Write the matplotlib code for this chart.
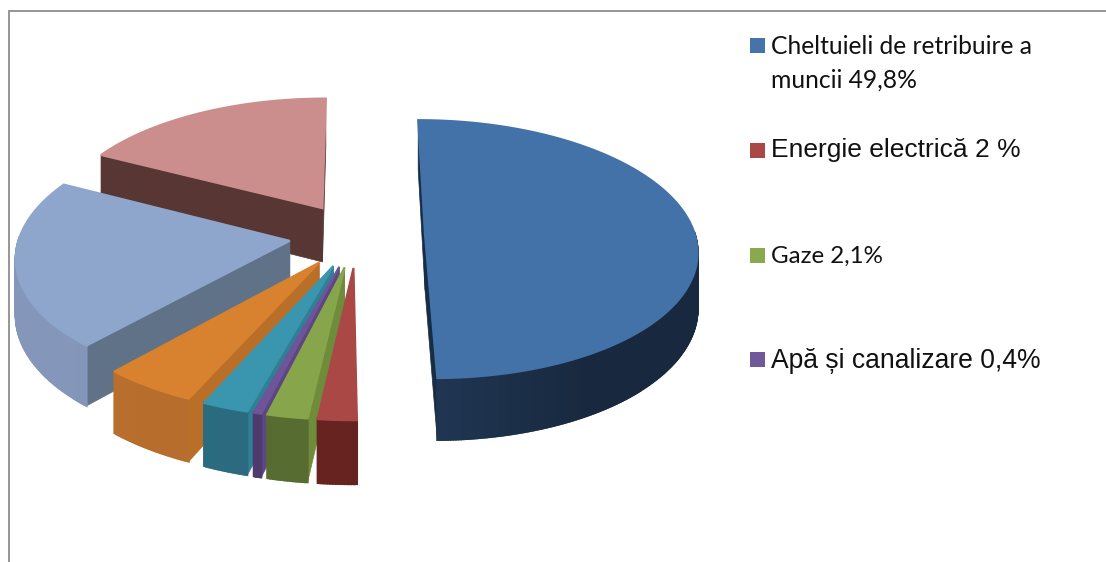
#!/usr/bin/env python3
"""Exploded 3D pie of expense shares, drawn by hand on a pixel canvas."""
import matplotlib
matplotlib.use('Agg')
import matplotlib.pyplot as plt
import numpy as np

# Shares in percent, clockwise from the top of the pie
values = [49.8, 2.0, 2.1, 0.4, 2.4, 4.9, 21.0, 17.4]
top_colors = ['#4372A8', '#A94845', '#87A64B', '#6E5499', '#3A96AE', '#D8822F', '#8EA5CC', '#CC8E8C']
face_colors = ['#172C45', '#A03F3D', '#6F8C3B', '#5D4684', '#2F7F96', '#BA6F28', '#5F7288', '#573634']
outer_left = ['#233C5C', '#662320', '#55692F', '#4F3A6E', '#2C6D82', '#B96F2C', '#8497BA', '#573634']
outer_right = ['#18293F', '#662320', '#5B7032', '#4F3A6E', '#286478', '#AE6A2E', '#6E82A0', '#573634']
draw_order = [7, 0, 6, 5, 4, 3, 2, 1]

legend_labels = ['Cheltuieli de retribuire a\nmuncii 49,8%', 'Energie electrică 2 %',
                 'Gaze 2,1%', 'Apă și canalizare 0,4%']
legend_colors = ['#4673AA', '#AA4846', '#8AA84E', '#71589A']

# Projection settings, in pixels
CX, CY = 357, 235
RADIUS = 270
EXPLODE = 68
TILT = 0.472
PERSPECTIVE = 0.111
DEPTH = 55


def project(x, y, down=0.0):
    """Map pie plane coordinates to canvas pixels."""
    s = 1 / (1 + PERSPECTIVE * y / RADIUS)
    return CX + x * s, CY - y * s * TILT + down * s


def draw_slice(ax, start, end, i):
    mid = (start + end) / 2
    ox, oy = EXPLODE * np.sin(mid), EXPLODE * np.cos(mid)
    theta = np.linspace(start, end, max(int(np.degrees(end - start) * 2), 8))
    rim_x = ox + RADIUS * np.sin(theta)
    rim_y = oy + RADIUS * np.cos(theta)

    # Radial faces first, the top and rim paint over the hidden parts
    for a in (start, end):
        ex, ey = ox + RADIUS * np.sin(a), oy + RADIUS * np.cos(a)
        corners = [project(ox, oy), project(ex, ey), project(ex, ey, DEPTH), project(ox, oy, DEPTH)]
        ax.fill(*zip(*corners), color=face_colors[i], lw=0.5)

    # Rim as thin strips so the shade can change along it
    c0 = np.array(matplotlib.colors.to_rgb(outer_right[i]))
    c1 = np.array(matplotlib.colors.to_rgb(outer_left[i]))
    xs = rim_x / RADIUS
    for j in range(len(theta) - 1):
        # back of the rim is never seen
        if np.cos(theta[j]) > 0.03:
            continue
        strip = [project(rim_x[j], rim_y[j]), project(rim_x[j + 1], rim_y[j + 1]),
                 project(rim_x[j + 1], rim_y[j + 1], DEPTH), project(rim_x[j], rim_y[j], DEPTH)]
        f = np.clip((1 - xs[j]) / 2, 0, 1)
        if i == 0:
            f = np.clip(1 - xs[j] * 1.3, 0, 1)
        ax.fill(*zip(*strip), color=c0 + (c1 - c0) * f, lw=1.5)

    top_x, top_y = project(np.r_[ox, rim_x], np.r_[oy, rim_y])
    ax.fill(top_x, top_y, color=top_colors[i], lw=1.5)


fig = plt.figure(figsize=(11.06, 5.62), dpi=100)
ax = fig.add_axes([0, 0, 1, 1])
ax.set_xlim(0, 1106)
ax.set_ylim(562, 0)
ax.axis('off')

# Chart frame, only top and left survive the crop
ax.plot([9, 9, 1106], [562, 11, 11], color='#8E8E8E', lw=1.3, solid_joinstyle='miter')

edges = np.radians(np.r_[0, np.cumsum(values)] / np.sum(values) * 360)
for i in draw_order:
    draw_slice(ax, edges[i], edges[i + 1], i)

# Legend, two different fonts as in the source document
legend_y = [45.5, 150.5, 255.5, 359.5]
legend_text_shift = [0.5, -1, 1, 1]
legend_font = ['Lato', 'Liberation Sans', 'Lato', 'Liberation Sans']
legend_size = [17.7, 19.0, 17.4, 19.1]
for k, label in enumerate(legend_labels):
    y = legend_y[k]
    ax.add_patch(plt.Rectangle((750, y - 7.5), 15, 15, color=legend_colors[k], lw=0))
    lines = label.split('\n')
    for n, line in enumerate(lines):
        ax.text(771, y + legend_text_shift[k] + n * 34.5, line, family=legend_font[k],
                fontsize=legend_size[k], va='center', color='#111111')

fig.savefig('out.png', dpi=100)
